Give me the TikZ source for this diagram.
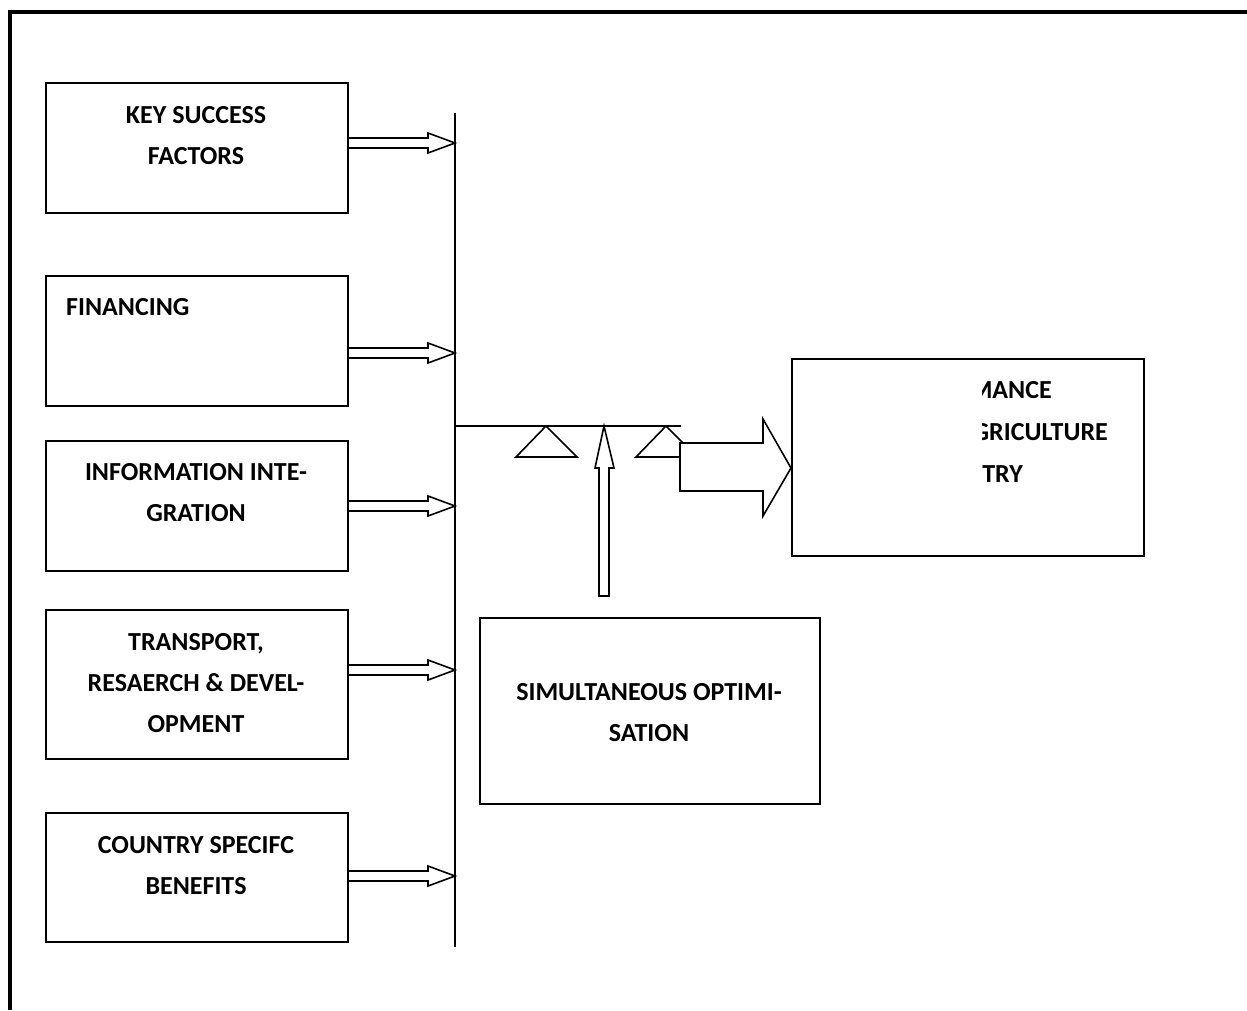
\documentclass[tikz,border=0pt]{standalone}
\usepackage{fontspec}
\setmainfont{Carlito}
\begin{document}
\begin{tikzpicture}[x=1pt,y=-1pt,
  box/.style={draw,line width=1.8pt,minimum width=302pt,anchor=north west,inner sep=0pt},
  lbl/.style={font=\bfseries\fontsize{26}{41}\selectfont,align=center,inner sep=0pt},
  hol/.style={draw,line width=1.6pt,fill=white,line join=miter},
  holopen/.style={draw,line width=1.6pt,line join=miter}]
\useasboundingbox (0,0) rectangle (1247,1010);
\draw[line width=4pt] (1247,12) -- (10,12) -- (10,1010);
% left boxes
\node[box,minimum height=130pt] (b1) at (45,82) {};
\node[box,minimum height=130pt] (b2) at (45,275) {};
\node[box,minimum height=130pt] (b3) at (45,440) {};
\node[box,minimum height=149pt] (b4) at (45,609) {};
\node[box,minimum height=129pt] (b5) at (45,812) {};
\node[lbl] (t1) at (196,135.5) {KEY SUCCESS\\FACTORS};
\node[lbl,anchor=west] (t2) at (66,307) {FINANCING};
\node[lbl] (t3) at (196,493) {INFORMATION INTE-\\GRATION};
\node[lbl] (t4) at (196,683) {TRANSPORT,\\RESAERCH \& DEVEL-\\OPMENT};
\node[lbl] (t5) at (196,865.5) {COUNTRY SPECIFC\\BENEFITS};
% vertical bus
\coordinate (vtop) at (455,113);
\coordinate (vbot) at (455,947);
\draw[line width=1.6pt] (vtop) -- (vbot);
% hollow arrows
\foreach \y in {143,353,506,670,876}{
  \draw[holopen] (347,\y-5) -- (428,\y-5) -- (428,\y-10) -- (455,\y) -- (428,\y+10) -- (428,\y+5) -- (347,\y+5);
}
% horizontal line
\coordinate (hl) at (455,426);
\coordinate (hr) at (681,426);
\draw[line width=1.6pt] (hl) -- (hr);
% triangles
\draw[line width=1.6pt,line join=miter] (546,426) -- (516,457) -- (577,457) -- cycle;
\draw[line width=1.6pt,line join=miter] (666,426) -- (636,457) -- (697,457) -- cycle;
% simultaneous box
\node[box,minimum width=340pt,minimum height=186pt] (sb) at (479,617) {};
\node[lbl] (st) at (649,712.5) {SIMULTANEOUS OPTIMI-\\SATION};
% up arrow
\draw[hol] (599,596) -- (599,468) -- (595,468) -- (604,426) -- (614,468) -- (609,468) -- (609,596) -- cycle;
% right box
\node[box,minimum width=352pt,minimum height=197pt] (rb) at (791,358) {};
\begin{scope}
\clip (982,360) rectangle (1141,553);
\node[lbl,anchor=east] (r1) at (1052,390) {MANCE};
\node[lbl,anchor=east] (r2) at (1108,432) {GRICULTURE};
\node[lbl,anchor=east] (r3) at (1023,474) {TRY};
\end{scope}
% big arrow
\draw[hol] (680,443) -- (763,443) -- (763,419) -- (791,468) -- (763,516) -- (763,491) -- (680,491) -- cycle;
\end{tikzpicture}
\end{document}
